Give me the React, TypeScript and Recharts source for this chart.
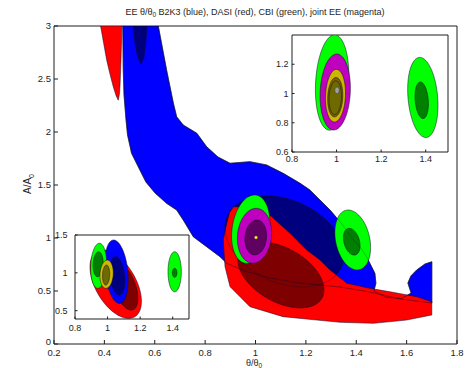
import React from 'react';
import { ScatterChart, Scatter, XAxis, YAxis, CartesianGrid, Polygon, Customized } from 'recharts';

type Pt = { x: number; y: number };
type Ell = { cx: number; cy: number; rx: number; ry: number; rho: number };

const FONT = '"Liberation Sans", Arial, Helvetica, sans-serif';
const INK = '#1e1e1e';
const EDGE = '#0c0c28';

// ---------- ticks ----------
const mainXTicks = [0.2, 0.4, 0.6, 0.8, 1, 1.2, 1.4, 1.6, 1.8];
const mainYTicks = [0, 0.5, 1, 1.5, 2, 2.5, 3];
const topInsetXTicks = [0.8, 1, 1.2, 1.4];
const topInsetYTicks = [0.6, 0.8, 1, 1.2];
const botInsetXTicks = [0.8, 1, 1.2, 1.4];
const botInsetYTicks = [0.5, 1, 1.5];

// ---------- main panel contours [θ/θ0, A/A0] ----------
// B2K3 (blue) outer contour
const blueBand: [number, number][] = [
  [0.473, 3.0], [0.614, 3.0], [0.647, 2.585], [0.674, 2.271], [0.687, 2.144], [0.713, 2.066],
  [0.767, 1.988], [0.806, 1.861], [0.851, 1.764], [0.899, 1.705], [0.978, 1.72], [1.044, 1.689],
  [1.11, 1.61], [1.177, 1.516], [1.216, 1.453], [1.296, 1.264], [1.343, 1.132], [1.383, 1.0],
  [1.415, 0.915], [1.441, 0.824], [1.474, 0.667], [1.478, 0.573], [1.47, 0.5], [1.52, 0.44],
  [1.58, 0.43], [1.618, 0.48], [1.605, 0.575], [1.617, 0.642], [1.64, 0.698], [1.673, 0.755],
  [1.7, 0.776], [1.7, 0.387], [1.574, 0.425], [1.454, 0.491], [1.335, 0.538], [1.177, 0.575],
  [1.057, 0.623], [0.958, 0.689], [0.886, 0.761], [0.859, 0.824], [0.806, 0.918], [0.753, 1.012],
  [0.713, 1.17], [0.687, 1.264], [0.647, 1.327], [0.601, 1.425], [0.565, 1.528], [0.537, 1.66],
  [0.508, 1.799], [0.492, 1.972], [0.486, 2.113], [0.478, 2.349], [0.475, 2.585],
];
// B2K3 inner contour lobe at the top
const navyLobe: [number, number][] = [
  [0.514, 3.0], [0.521, 2.85], [0.531, 2.72], [0.545, 2.64], [0.557, 2.7], [0.565, 2.85], [0.569, 3.0],
];
// DASI (red) outer contour
const redBand: [number, number][] = [
  [0.912, 1.295], [0.978, 1.292], [1.026, 1.264], [1.064, 1.201], [1.137, 1.044], [1.203, 0.887],
  [1.256, 0.792], [1.296, 0.698], [1.363, 0.573], [1.454, 0.525], [1.534, 0.493], [1.64, 0.446],
  [1.7, 0.399], [1.7, 0.274], [1.6, 0.226], [1.468, 0.195], [1.335, 0.205], [1.243, 0.226],
  [1.109, 0.258], [0.978, 0.352], [0.899, 0.541], [0.879, 0.729], [0.872, 0.981], [0.886, 1.139],
  [0.897, 1.24],
];
const redLobe: [number, number][] = [
  [0.385, 3.0], [0.397, 2.84], [0.409, 2.68], [0.422, 2.55], [0.435, 2.43], [0.447, 2.34],
  [0.455, 2.3], [0.46, 2.36], [0.462, 2.43], [0.466, 2.68], [0.468, 2.85], [0.469, 3.0],
];
// ellipse-like contours: centre, half extents, tilt
const mainNavy: Ell = { cx: 1.115, cy: 0.967, rx: 0.236, ry: 0.429, rho: -0.3 };
const mainDarkRed: Ell = { cx: 1.101, cy: 0.651, rx: 0.171, ry: 0.311, rho: -0.45 };
const mainGreenL: Ell = { cx: 0.981, cy: 1.083, rx: 0.076, ry: 0.323, rho: 0.2 };
const mainMagenta: Ell = { cx: 0.996, cy: 1.021, rx: 0.068, ry: 0.259, rho: 0.1 };
const mainPurple: Ell = { cx: 1.001, cy: 1.005, rx: 0.043, ry: 0.165, rho: 0.1 };
const mainYellow: Ell = { cx: 1.002, cy: 1.005, rx: 0.006, ry: 0.014, rho: 0 };
const mainGreenR: Ell = { cx: 1.386, cy: 0.981, rx: 0.071, ry: 0.283, rho: -0.25 };
const mainDkGreenR: Ell = { cx: 1.382, cy: 0.965, rx: 0.033, ry: 0.126, rho: -0.3 };

// ---------- top-right inset ----------
const tiGreenL: Ell = { cx: 0.98, cy: 1.075, rx: 0.075, ry: 0.326, rho: 0.15 };
const tiMagenta: Ell = { cx: 0.994, cy: 1.01, rx: 0.068, ry: 0.26, rho: 0.1 };
const tiGold: Ell = { cx: 0.995, cy: 0.985, rx: 0.045, ry: 0.18, rho: 0.1 };
const tiBrown: Ell = { cx: 0.994, cy: 0.975, rx: 0.034, ry: 0.135, rho: 0.1 };
const tiOlive: Ell = { cx: 0.994, cy: 0.971, rx: 0.028, ry: 0.115, rho: 0.1 };
const tiDot: Ell = { cx: 1.002, cy: 1.022, rx: 0.01, ry: 0.022, rho: 0 };
const tiGreenR: Ell = { cx: 1.387, cy: 0.973, rx: 0.068, ry: 0.274, rho: -0.2 };
const tiDkGreenR: Ell = { cx: 1.382, cy: 0.954, rx: 0.03, ry: 0.125, rho: -0.2 };

// ---------- bottom-left inset ----------
const biRed: Ell = { cx: 1.05, cy: 0.85, rx: 0.158, ry: 0.452, rho: -0.5 };
const biDarkRed: Ell = { cx: 1.105, cy: 0.817, rx: 0.081, ry: 0.309, rho: -0.5 };
const biBlue: Ell = { cx: 1.055, cy: 1.015, rx: 0.072, ry: 0.419, rho: -0.25 };
const biNavy: Ell = { cx: 1.06, cy: 0.96, rx: 0.046, ry: 0.254, rho: -0.25 };
const biGreenL: Ell = { cx: 0.945, cy: 1.093, rx: 0.049, ry: 0.298, rho: 0.1 };
const biDkGreenL: Ell = { cx: 0.942, cy: 1.113, rx: 0.031, ry: 0.165, rho: 0.1 };
const biGold: Ell = { cx: 0.994, cy: 0.982, rx: 0.041, ry: 0.187, rho: 0.1 };
const biOlive: Ell = { cx: 0.991, cy: 0.971, rx: 0.022, ry: 0.132, rho: 0.1 };
const biGreenR: Ell = { cx: 1.412, cy: 1.014, rx: 0.041, ry: 0.265, rho: 0 };
const biDkGreenR: Ell = { cx: 1.412, cy: 1.0, rx: 0.014, ry: 0.06, rho: 0 };

// ---------- colours ----------
const C = {
  blue: '#0000ff', navy: '#00007f', red: '#ff0000', darkRed: '#7f0000',
  green: '#00ff00', dkGreen: '#007f00', magenta: '#bf00bf', purple: '#600060',
  yellow: '#ffff00', gold: '#ccb800', brown: '#7a6000', olive: '#6e6a00', gray: '#a0a0a0',
};

const toPts = (a: [number, number][]): Pt[] => a.map(([x, y]) => ({ x, y }));
const ellPts = (e: Ell, n = 72): Pt[] => {
  const s = Math.sqrt(1 - e.rho * e.rho);
  const out: Pt[] = [];
  for (let i = 0; i < n; i++) {
    const t = (2 * Math.PI * i) / n;
    out.push({ x: e.cx + e.rx * Math.cos(t), y: e.cy + e.ry * (e.rho * Math.cos(t) + s * Math.sin(t)) });
  }
  return out;
};

const noDot = () => <g />;
const region = (key: string, pts: Pt[], fill: string, stroke: string = EDGE, sw = 0.6, op = 0.85) => (
  <Scatter
    key={key}
    data={pts}
    isAnimationActive={false}
    shape={noDot}
    lineType="joint"
    line={(p: any) => (
      <Polygon points={p.points} fill={fill} stroke={stroke} strokeWidth={sw} strokeOpacity={op} />
    )}
  />
);

const fmt = (v: number) => String(Math.round(v * 10) / 10);
const axisStyle = (fs: number) => ({
  type: 'number' as const,
  allowDataOverflow: true,
  interval: 0 as const,
  axisLine: { stroke: INK, strokeWidth: 1 },
  tickLine: { stroke: INK, strokeWidth: 1 },
  tick: { fontSize: fs, fill: INK, fontFamily: FONT },
  tickFormatter: fmt,
});

// main y-axis tick labels (the "0" sits a touch higher, as in the reference)
const MainYTick = (props: any) => {
  const { x, y, payload } = props;
  const v = payload.value as number;
  return (
    <text x={x} y={y} dy={v === 0 ? 0.9 : 3.4} textAnchor="end" fontSize={9.5} fill={INK} fontFamily={FONT}>
      {fmt(v)}
    </text>
  );
};

const Texts = () => (
  <g fontFamily={FONT} fill={INK}>
    <text x={255} y={15} fontSize={9} textAnchor="middle">
      EE θ/θ<tspan fontSize={6.5} dy={2}>0</tspan>
      <tspan dy={-2}> B2K3 (blue), DASI (red), CBI (green), joint EE (magenta)</tspan>
    </text>
    <text x={254} y={366} fontSize={9} textAnchor="middle">
      θ/θ<tspan fontSize={6.5} dy={1.5}>0</tspan>
    </text>
    <text transform="rotate(-90)" x={-184} y={31} fontSize={10} textAnchor="middle">
      A/A<tspan fontSize={7} dy={3}>0</tspan>
    </text>
  </g>
);

const MainChart = () => (
  <ScatterChart width={468} height={368} margin={{ top: 25, right: 10, bottom: 0, left: 0 }}>
    <XAxis xAxisId={0} dataKey="x" domain={[0.2, 1.8]} ticks={mainXTicks} height={24} tickSize={-4} tickMargin={9} {...axisStyle(9.5)} />
    <XAxis xAxisId="t" orientation="top" dataKey="x" domain={[0.2, 1.8]} ticks={mainXTicks} height={1} tickSize={-4} {...axisStyle(9.5)} tick={false} />
    <YAxis yAxisId={0} dataKey="y" domain={[0, 3]} ticks={mainYTicks} width={54} tickSize={-4} tickMargin={7} {...axisStyle(9.5)} tick={<MainYTick />} />
    <YAxis yAxisId="r" orientation="right" dataKey="y" domain={[0, 3]} ticks={mainYTicks} width={1} tickSize={-4} {...axisStyle(9.5)} tick={false} />
    {region('blue', toPts(blueBand), C.blue)}
    {region('navyLobe', toPts(navyLobe), C.navy)}
    {region('navy', ellPts(mainNavy), C.navy)}
    {region('redLobe', toPts(redLobe), C.red)}
    {region('red', toPts(redBand), C.red)}
    {region('darkRed', ellPts(mainDarkRed), C.darkRed)}
    {region('blueEdge', toPts(blueBand), 'none', EDGE, 0.5, 0.55)}
    {region('navyEdge', ellPts(mainNavy), 'none', EDGE, 0.5, 0.55)}
    {region('greenL', ellPts(mainGreenL), C.green)}
    {region('magenta', ellPts(mainMagenta), C.magenta)}
    {region('purple', ellPts(mainPurple), C.purple)}
    {region('yellow', ellPts(mainYellow, 24), C.yellow, '#777', 0.4)}
    {region('greenR', ellPts(mainGreenR), C.green)}
    {region('dkGreenR', ellPts(mainDkGreenR), C.dkGreen)}
    {region('blueEdge2', toPts(blueBand), 'none', EDGE, 0.5, 0.45)}
    <Customized component={<Texts />} />
  </ScatterChart>
);

const TopInset = () => (
  <ScatterChart width={190} height={140} margin={{ top: 4, right: 3, bottom: 0, left: 0 }}>
    <CartesianGrid horizontal={false} vertical={false} fill="#ffffff" />
    <XAxis xAxisId={0} dataKey="x" domain={[0.8, 1.5]} ticks={topInsetXTicks} height={18} tickSize={-2.5} tickMargin={6} {...axisStyle(9)} />
    <XAxis xAxisId="t" orientation="top" dataKey="x" domain={[0.8, 1.5]} ticks={topInsetXTicks} height={1} tickSize={-2.5} {...axisStyle(9)} tick={false} />
    <YAxis yAxisId={0} dataKey="y" domain={[0.6, 1.4]} ticks={topInsetYTicks} width={30} tickSize={-2.5} tickMargin={6} {...axisStyle(9)} />
    <YAxis yAxisId="r" orientation="right" dataKey="y" domain={[0.6, 1.4]} ticks={topInsetYTicks} width={1} tickSize={-2.5} {...axisStyle(9)} tick={false} />
    {region('g', ellPts(tiGreenL), C.green)}
    {region('m', ellPts(tiMagenta), C.magenta)}
    {region('gold', ellPts(tiGold), C.gold)}
    {region('brown', ellPts(tiBrown), C.brown)}
    {region('olive', ellPts(tiOlive), C.olive)}
    {region('dot', ellPts(tiDot, 24), C.gray, '#444', 0.6, 1)}
    {region('gr', ellPts(tiGreenR), C.green)}
    {region('dgr', ellPts(tiDkGreenR), C.dkGreen)}
  </ScatterChart>
);

const BottomInset = () => (
  <ScatterChart width={150} height={110} margin={{ top: 4, right: 5, bottom: 0, left: 0 }}>
    <CartesianGrid horizontal={false} vertical={false} fill="#ffffff" />
    <XAxis xAxisId={0} dataKey="x" domain={[0.8, 1.5]} ticks={botInsetXTicks} height={21} tickSize={-2.5} tickMargin={8} {...axisStyle(9)} />
    <XAxis xAxisId="t" orientation="top" dataKey="x" domain={[0.8, 1.5]} ticks={botInsetXTicks} height={1} tickSize={-2.5} {...axisStyle(9)} tick={false} />
    <YAxis yAxisId={0} dataKey="y" domain={[0.39, 1.5]} ticks={botInsetYTicks} width={30} tickSize={-2.5} tickMargin={10} {...axisStyle(9)} />
    <YAxis yAxisId="r" orientation="right" dataKey="y" domain={[0.39, 1.5]} ticks={botInsetYTicks} width={1} tickSize={-2.5} {...axisStyle(9)} tick={false} />
    {region('r', ellPts(biRed), C.red)}
    {region('dr', ellPts(biDarkRed), C.darkRed)}
    {region('b', ellPts(biBlue), C.blue)}
    {region('n', ellPts(biNavy), C.navy)}
    {region('g', ellPts(biGreenL), C.green)}
    {region('dg', ellPts(biDkGreenL), C.dkGreen)}
    {region('gold', ellPts(biGold), C.gold)}
    {region('olive', ellPts(biOlive), C.olive)}
    {region('gr', ellPts(biGreenR), C.green)}
    {region('dgr', ellPts(biDkGreenR), C.dkGreen)}
  </ScatterChart>
);

export default function App() {
  return (
    <div style={{ position: 'absolute', left: 0, top: 0, width: 468, height: 368, background: '#fff' }}>
      <div style={{ position: 'absolute', left: 0, top: 0 }}>
        <MainChart />
      </div>
      <div style={{ position: 'absolute', left: 262, top: 30 }}>
        <TopInset />
      </div>
      <div style={{ position: 'absolute', left: 45, top: 230 }}>
        <BottomInset />
      </div>
    </div>
  );
}
